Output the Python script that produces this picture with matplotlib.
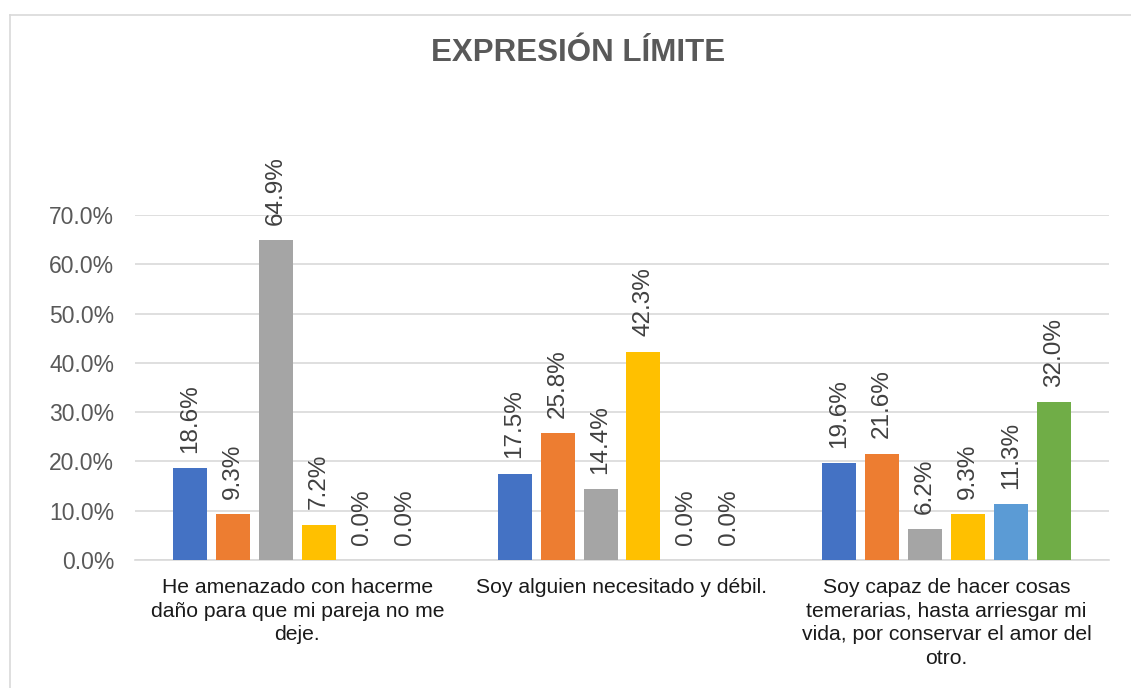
import matplotlib.pyplot as plt
import numpy as np
from matplotlib.lines import Line2D

plt.rcParams['font.family'] = ['Liberation Sans', 'DejaVu Sans']

categories = ['He amenazado con hacerme\ndaño para que mi pareja no me\ndeje.',
              'Soy alguien necesitado y débil.',
              'Soy capaz de hacer cosas\ntemerarias, hasta arriesgar mi\nvida, por conservar el amor del\notro.']
s1 = [18.6, 17.5, 19.6]
s2 = [9.3, 25.8, 21.6]
s3 = [64.9, 14.4, 6.2]
s4 = [7.2, 42.3, 9.3]
s5 = [0.0, 0.0, 11.3]
s6 = [0.0, 0.0, 32.0]
series = [s1, s2, s3, s4, s5, s6]
colors = ['#4472C4', '#ED7D31', '#A5A5A5', '#FFC000', '#5B9BD5', '#70AD47']
yticks = [0, 10, 20, 30, 40, 50, 60, 70]

fig = plt.figure(figsize=(11.31, 6.88), dpi=100)
ax = fig.add_axes([135/1131, (688-560)/688, 974/1131, 345/688])

x = np.arange(len(categories))
step = 0.1323
width = 0.1046
for i, (vals, c) in enumerate(zip(series, colors)):
    pos = x + (i - 2.5) * step
    ax.bar(pos, vals, width=width, color=c, zorder=3)
    for px, v in zip(pos, vals):
        ax.annotate('%.1f%%' % v, (px, v), xytext=(0, 11), textcoords='offset points',
                    rotation=90, ha='center', va='bottom', fontsize=17.5, color='#404040')

ax.set_xlim(-0.5, 2.5)
ax.set_ylim(0, 70)
ax.set_yticks(yticks)
ax.set_yticklabels(['%.1f%%' % t for t in yticks], fontsize=16.5, color='#595959')
ax.set_xticks(x)
ax.set_xticklabels(categories, fontsize=15.2, color='#1a1a1a', linespacing=1.3)
ax.tick_params(axis='both', length=0)
ax.tick_params(axis='x', pad=13)
ax.tick_params(axis='y', pad=15)
ax.grid(axis='y', color='#D9D9D9', linewidth=1.2, zorder=0)
for s in ['top', 'right', 'left']:
    ax.spines[s].set_visible(False)
ax.spines['bottom'].set_color('#D9D9D9')
ax.spines['bottom'].set_linewidth(1.2)

fig.text(578/1131, 1 - 53/688, 'EXPRESIÓN LÍMITE', ha='center', va='center',
         fontsize=22.5, fontweight='bold', color='#595959')

# chart frame (only left and top visible in the crop)
fig.add_artist(Line2D([9.5/1131, 9.5/1131], [0, 1 - 14.5/688], transform=fig.transFigure, color='#D9D9D9', lw=1.2))
fig.add_artist(Line2D([9.5/1131, 1], [1 - 14.5/688, 1 - 14.5/688], transform=fig.transFigure, color='#D9D9D9', lw=1.2))

plt.savefig('out.png', dpi=100)
